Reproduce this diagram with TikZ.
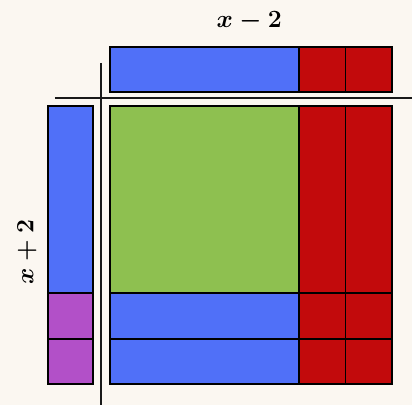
\documentclass[tikz,border=0pt]{standalone}
\usepackage{amsmath}
\usepackage{tikz}
\usetikzlibrary{positioning}
\definecolor{bgcream}{RGB}{251,247,241}
\definecolor{tileblue}{RGB}{80,112,248}
\definecolor{tilered}{RGB}{194,10,12}
\definecolor{tilegreen}{RGB}{142,192,80}
\definecolor{tilepurple}{RGB}{178,80,200}
\begin{document}
\begin{tikzpicture}[
x=1pt, y=-1pt,
tile/.style={draw=black, line width=2pt, inner sep=0pt, outer sep=0pt, anchor=north west},
xtile/.style={tile, fill=tileblue, minimum width=190pt, minimum height=45.5pt},
ytile/.style={tile, fill=tileblue, minimum width=45pt, minimum height=188pt},
xsq/.style={tile, fill=tilegreen, minimum width=190pt, minimum height=188pt},
posunit/.style={tile, fill=tilepurple, minimum width=45pt, minimum height=45.5pt},
negunit/.style={tile, fill=tilered, minimum width=46.5pt, minimum height=45.5pt},
negy/.style={tile, fill=tilered, minimum width=46.5pt, minimum height=188pt},
axis/.style={line width=2.4pt, black!90},
label/.style={font=\fontsize{26}{30}\selectfont\boldmath, inner sep=0pt}
]
\fill[bgcream] (0,0) rectangle (413,406);

% top factor: x - 2
\node[xtile] (topx) at (110,47) {};
\node[negunit, right=0pt of topx] (topm1) {};
\node[negunit, right=0pt of topm1] (topm2) {};

% left factor: x + 2
\node[ytile] (leftx) at (48,106) {};
\node[posunit, below=0pt of leftx] (leftp1) {};
\node[posunit, below=0pt of leftp1] (leftp2) {};

% product
\node[xsq] (sq) at (110,106) {};
\node[negy, right=0pt of sq] (col1) {};
\node[negy, right=0pt of col1] (col2) {};
\node[xtile, below=0pt of sq] (row1) {};
\node[xtile, below=0pt of row1] (row2) {};
\node[negunit, right=0pt of row1] (c11) {};
\node[negunit, right=0pt of c11] (c12) {};
\node[negunit, right=0pt of row2] (c21) {};
\node[negunit, right=0pt of c21] (c22) {};

% axes
\coordinate (hleft) at (55,98);
\coordinate (hright) at (413,98);
\coordinate (vtop) at (101,63);
\coordinate (vbot) at (101,406);
\draw[axis] (hleft) -- (hright);
\draw[axis] (vtop) -- (vbot);

\node[label] (toplabel) at (250,21) {$x-2$};
\node[label, rotate=90] (leftlabel) at (27,253) {$x+2$};
\end{tikzpicture}
\end{document}
